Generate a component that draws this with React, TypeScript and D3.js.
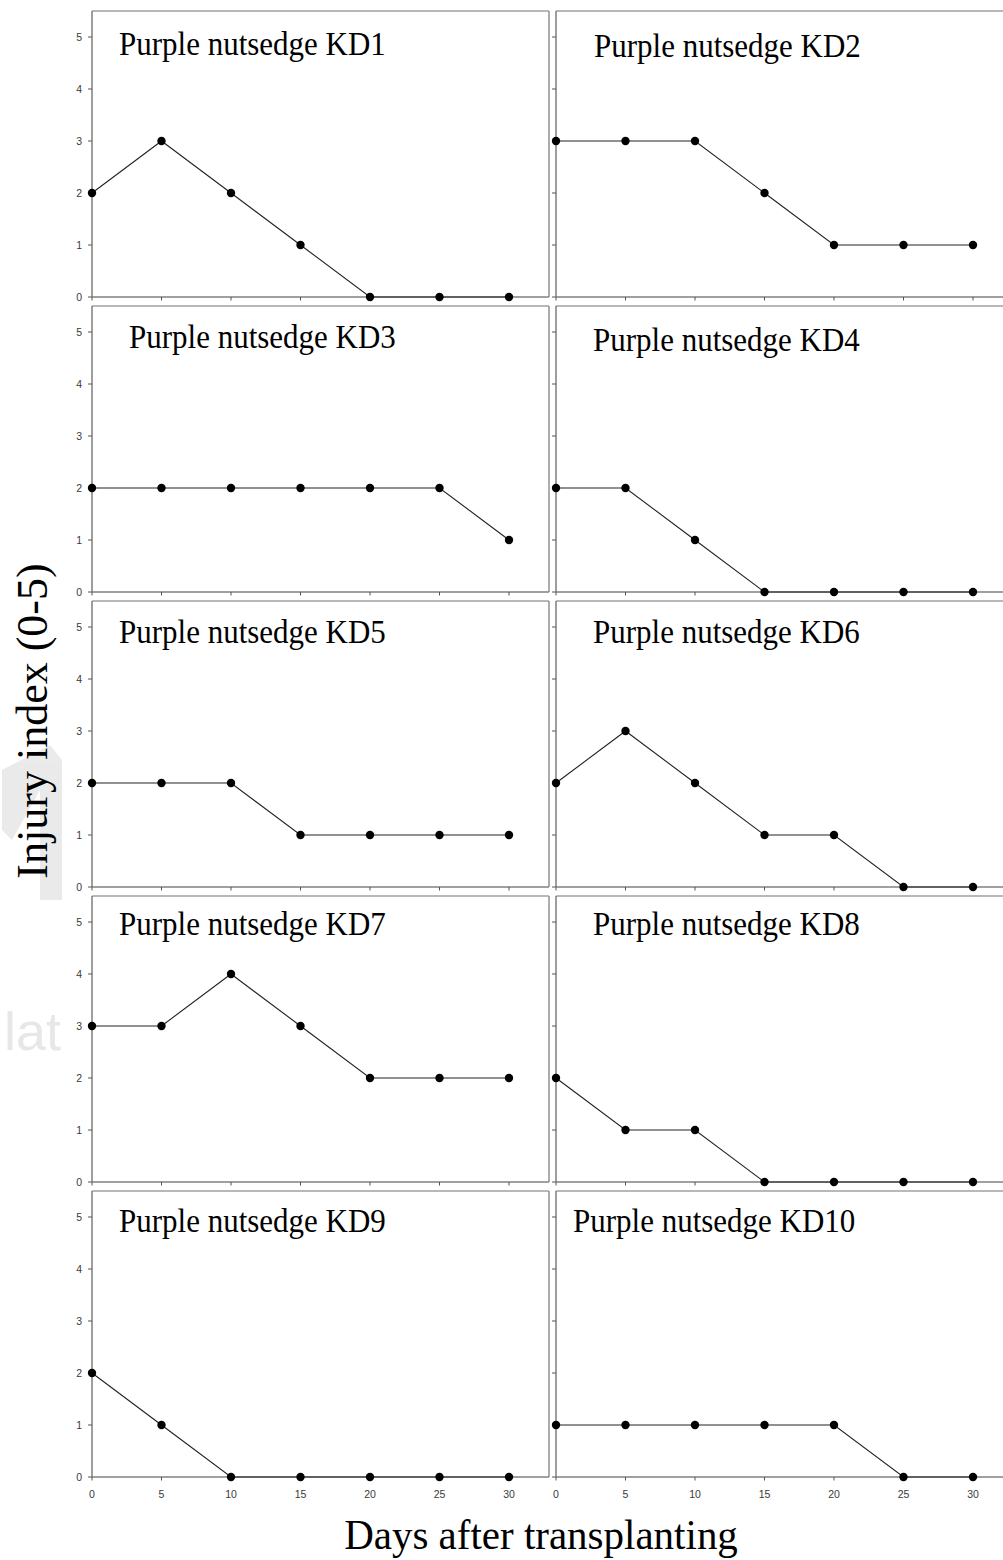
import React from "react";
import * as d3 from "d3";

const days = [0, 5, 10, 15, 20, 25, 30];
const titles = [
  "Purple nutsedge KD1", "Purple nutsedge KD2", "Purple nutsedge KD3", "Purple nutsedge KD4",
  "Purple nutsedge KD5", "Purple nutsedge KD6", "Purple nutsedge KD7", "Purple nutsedge KD8",
  "Purple nutsedge KD9", "Purple nutsedge KD10",
];
const kd1 = [2, 3, 2, 1, 0, 0, 0];
const kd2 = [3, 3, 3, 2, 1, 1, 1];
const kd3 = [2, 2, 2, 2, 2, 2, 1];
const kd4 = [2, 2, 1, 0, 0, 0, 0];
const kd5 = [2, 2, 2, 1, 1, 1, 1];
const kd6 = [2, 3, 2, 1, 1, 0, 0];
const kd7 = [3, 3, 4, 3, 2, 2, 2];
const kd8 = [2, 1, 1, 0, 0, 0, 0];
const kd9 = [2, 1, 0, 0, 0, 0, 0];
const kd10 = [1, 1, 1, 1, 1, 0, 0];
const series = [kd1, kd2, kd3, kd4, kd5, kd6, kd7, kd8, kd9, kd10];
const yTicks = [0, 1, 2, 3, 4, 5];
const xTicks = [0, 5, 10, 15, 20, 25, 30];
const xLabel = "Days after transplanting";
const yLabel = "Injury index (0-5)";

// layout (not data)
const W = 1003, H = 1560;
const rowTop0 = 11, rowPitch = 295, plotH = 286;
const colLeft = [92, 556];
const pxPerDay = 13.9;
const titleX = [119, 594, 129, 593, 119, 593, 119, 593, 119, 573];
const titleDy = [44, 46, 42, 45, 42, 42, 39, 39, 41, 41];

const tickFont = "'Liberation Sans', Arial, sans-serif";
const serif = "'Liberation Serif', 'Times New Roman', serif";

function Panel({ idx }: { idx: number }) {
  const col = idx % 2;
  const row = Math.floor(idx / 2);
  const top = rowTop0 + row * rowPitch;
  const bottom = top + plotH;
  const left = colLeft[col];
  const right = col === 0 ? 549 : 1020;
  const x = d3.scaleLinear().domain([0, 30]).range([left, left + 30 * pxPerDay]);
  const y = d3.scaleLinear().domain([0, 5.5]).range([bottom, top]);
  const vals = series[idx];
  const pts: [number, number][] = days.map((d, i) => [x(d), y(vals[i])]);
  const line = d3.line()(pts) || "";
  const isBottom = row === 4;
  const tx = titleX[idx];
  const ty = top + titleDy[idx];
  return (
    <g>
      <line x1={left} x2={right} y1={top} y2={top} stroke="#a0a0a0" strokeWidth={1.5} />
      {col === 0 && <line x1={right} x2={right} y1={top} y2={bottom} stroke="#909090" strokeWidth={1.5} />}
      <line x1={left} x2={left} y1={top} y2={bottom} stroke="#6a6a6a" strokeWidth={1.3} />
      <line x1={left} x2={right} y1={bottom} y2={bottom} stroke="#808080" strokeWidth={1.5} />
      {yTicks.map((t) => (
        <g key={"y" + t}>
          <line x1={left - 4} x2={left} y1={y(t)} y2={y(t)} stroke="#555" strokeWidth={1} />
          {col === 0 && (
            <text x={left - 10} y={y(t)} dy="0.36em" textAnchor="end" fontFamily={tickFont} fontSize={10.5} fill="#3a3a3a">
              {t}
            </text>
          )}
        </g>
      ))}
      {xTicks.map((t) => (
        <g key={"x" + t}>
          <line x1={x(t)} x2={x(t)} y1={bottom} y2={bottom + 3.5} stroke="#555" strokeWidth={1} />
          {isBottom && (
            <text x={x(t)} y={bottom + 17} dy="0.36em" textAnchor="middle" fontFamily={tickFont} fontSize={10.5} fill="#3a3a3a">
              {t}
            </text>
          )}
        </g>
      ))}
      <path d={line} fill="none" stroke="#222" strokeWidth={1.1} />
      {pts.map((p, i) => (
        <circle key={i} cx={p[0]} cy={p[1]} r={4.2} fill="#000" />
      ))}
      <text transform={`translate(${tx},${ty}) scale(1,1.1)`} fontFamily={serif} fontSize={31} fill="#000">
        {titles[idx]}
      </text>
    </g>
  );
}

export default function App() {
  return (
    <svg width={W} height={H} style={{ position: "absolute", left: 0, top: 0, background: "#fff" }}>
      <rect x={0} y={0} width={W} height={H} fill="#fff" />
      <g opacity={0.2}>
        <path d="M2 770 L50 745 L62 760 L62 900 L40 900 L40 790 L12 840 L2 830 Z" fill="#9a9a9a" />
        <text x={4} y={1050} fontFamily={tickFont} fontSize={54} fill="#8a8a8a">lat</text>
      </g>
      {series.map((_, i) => (
        <Panel key={i} idx={i} />
      ))}
      <text transform="translate(541,1549) scale(1,1.05)" textAnchor="middle" fontFamily={serif} fontSize={41} fill="#000">
        {xLabel}
      </text>
      <text transform="translate(47,721) rotate(-90)" textAnchor="middle" fontFamily={serif} fontSize={44} fill="#000">
        {yLabel}
      </text>
    </svg>
  );
}
